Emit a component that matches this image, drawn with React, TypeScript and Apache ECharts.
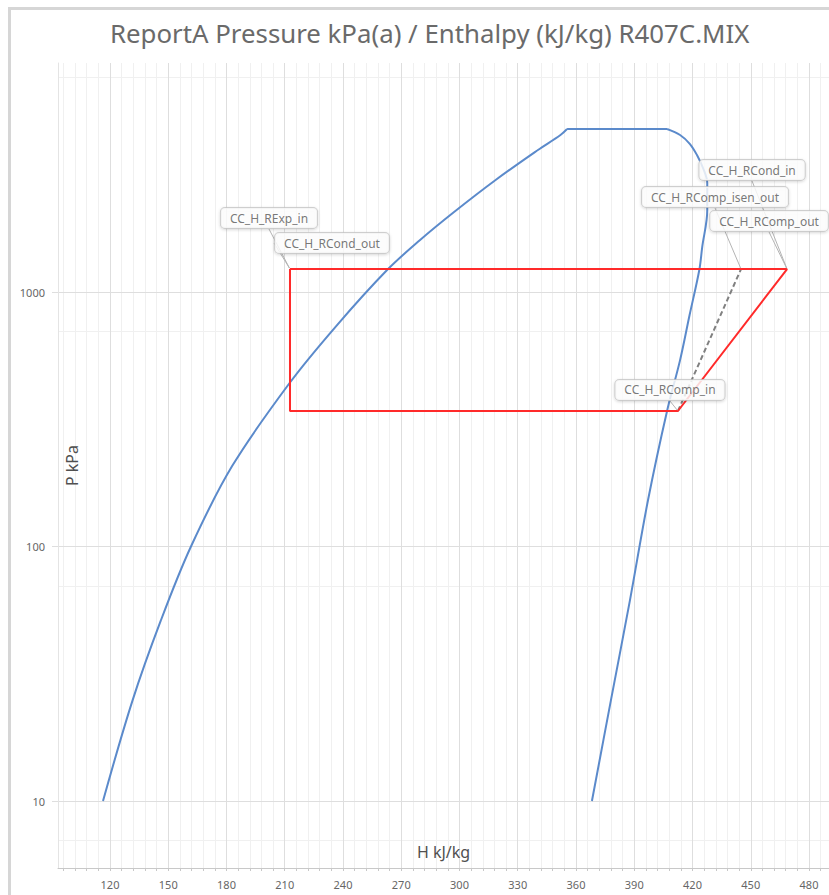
import React, { useEffect, useRef } from "react";
import * as echarts from "echarts";

// Saturation dome of R407C (enthalpy kJ/kg, pressure kPa)
const liquidH = [116.4, 131.5, 146.1, 161.7, 182.9, 212.5, 236.5, 262.7, 279.7, 297.2, 318.6, 340.4, 352.0, 355.4];
const liquidP = [10, 24.7, 51, 100, 207, 439, 735, 1220, 1601, 2062, 2755, 3614, 4140, 4371];
const vapourH = [406.9, 413.6, 418.7, 422.3, 425.4, 427.6, 427.6, 425.0, 423.5, 418.5, 413.6, 406.9, 397.1, 387.8, 378.0, 368.2];
const vapourP = [4371, 4140, 3815, 3454, 3071, 2681, 2100, 1502, 1220, 812, 540, 340.8, 152.3, 61.6, 24.9, 10];

// Refrigeration cycle
const cycleH = [212.7, 212.7, 412.5, 468.7, 212.7];
const cycleP = [1231, 340.8, 340.8, 1231, 1231];
const isenH = [412.5, 445.0];
const isenP = [340.8, 1231];

// State point callouts
const calloutNames = ["CC_H_RExp_in", "CC_H_RCond_out", "CC_H_RCond_in", "CC_H_RComp_isen_out", "CC_H_RComp_out", "CC_H_RComp_in"];
const calloutH = [212.7, 212.7, 468.7, 445.0, 468.7, 412.5];
const calloutP = [1231, 1231, 1231, 1231, 1231, 340.8];

// Axis ticks and grid
const hTicks = [120, 150, 180, 210, 240, 270, 300, 330, 360, 390, 420, 450, 480];
const hMinor = [96, 102, 108, 114, 126, 132, 138, 144, 156, 162, 168, 174, 186, 192, 198, 204, 216, 222, 228, 234, 246, 252, 258, 264, 276, 282, 288, 294, 306, 312, 318, 324, 336, 342, 348, 354, 366, 372, 378, 384, 396, 402, 408, 414, 426, 432, 438, 444, 456, 462, 468, 474, 486];
const pTicks = [10, 100, 1000];
const pMinor = [7, 70, 700, 7000];

const H_MIN = 93.22;
const H_MAX = 490.3;
const P_MIN = 5.455;
const P_MAX = 7941;

// label box offsets from their state point (px)
const calloutShift = [
  [-21, -51],
  [42, -26],
  [-35, -99],
  [-26, -72],
  [-18, -48],
  [-8, -21],
];

const FONT = "Noto Sans";

export default function App() {
  const ref = useRef<HTMLDivElement>(null);

  useEffect(() => {
    document.body.style.margin = "0";
    const chart = echarts.init(ref.current!, null, { renderer: "svg" });
    const zip = (a: number[], b: number[]) => a.map((v, i) => [v, b[i]]);

    const gridLines = [
      ...hMinor.map((v) => ({ xAxis: v, lineStyle: { color: "#f0f0f0", width: 1, type: "solid" } })),
      ...pMinor.map((v) => ({ yAxis: v, lineStyle: { color: "#f0f0f0", width: 1, type: "solid" } })),
      ...hTicks.map((v) => ({ xAxis: v, lineStyle: { color: "#dedede", width: 1, type: "solid" } })),
      ...pTicks.map((v) => ({ yAxis: v, lineStyle: { color: "#dedede", width: 1, type: "solid" } })),
    ];

    const curve = { color: "#5b8acb", width: 2 };

    chart.setOption({
      animation: false,
      backgroundColor: "#ffffff",
      textStyle: { fontFamily: FONT },
      title: {
        text: "ReportA Pressure kPa(a) / Enthalpy (kJ/kg) R407C.MIX",
        left: 105,
        top: 15,
        textStyle: { fontFamily: FONT, fontSize: 25.8, fontWeight: "normal", color: "#6a6a6a" },
      },
      graphic: [
        {
          type: "polyline",
          shape: { points: [[9.5, 895], [9.5, 8.5], [829, 8.5]] },
          style: { stroke: "#d6d6d6", lineWidth: 3, fill: "none" },
          silent: true,
        },
      ],
      grid: { left: 58, top: 63, right: 0, bottom: 27, containLabel: false, outerBoundsMode: "none" },
      xAxis: {
        type: "value",
        min: H_MIN,
        max: H_MAX,
        name: "H kJ/kg",
        nameLocation: "middle",
        nameGap: -24,
        nameMoveOverlap: false,
        nameTextStyle: { fontFamily: FONT, fontSize: 16, color: "#505050" },
        axisLine: { show: true, lineStyle: { color: "#c8c8c8", width: 1 } },
        axisTick: { show: true, customValues: [...hMinor, ...hTicks], length: 3, lineStyle: { color: "#c8c8c8" } },
        axisLabel: { customValues: hTicks, color: "#666", fontSize: 11, margin: 11, fontFamily: FONT },
        splitLine: { show: false },
      },
      yAxis: {
        type: "log",
        logBase: 10,
        min: P_MIN,
        max: P_MAX,
        name: "P kPa",
        nameLocation: "middle",
        nameGap: -14,
        nameRotate: 90,
        nameMoveOverlap: false,
        nameTextStyle: { fontFamily: FONT, fontSize: 16, color: "#505050", verticalAlign: "middle" },
        axisLine: { show: true, lineStyle: { color: "#e4e4e4", width: 1 } },
        axisTick: { show: true, customValues: pTicks, length: 6, lineStyle: { color: "#dedede" } },
        axisLabel: {
          customValues: pTicks,
          color: "#666",
          fontSize: 11,
          margin: 13,
          fontFamily: FONT,
          formatter: (v: number) => String(Math.round(v)),
        },
        splitLine: { show: false },
      },
      series: [
        {
          type: "line",
          name: "grid",
          data: [[hTicks[0], pTicks[0]]],
          symbol: "none",
          lineStyle: { opacity: 0 },
          silent: true,
          z: 0,
          markLine: { silent: true, symbol: "none", z: 0, label: { show: false }, data: gridLines, animation: false },
        },
        {
          type: "line",
          name: "liquid",
          data: zip(liquidH, liquidP),
          symbol: "none",
          smooth: 0.35,
          lineStyle: curve,
          z: 3,
        },
        {
          type: "line",
          name: "dome top",
          data: [[liquidH[liquidH.length - 1], liquidP[liquidP.length - 1]], [vapourH[0], vapourP[0]]],
          symbol: "none",
          lineStyle: curve,
          z: 3,
        },
        {
          type: "line",
          name: "vapour",
          data: zip(vapourH, vapourP),
          symbol: "none",
          smooth: 0.35,
          lineStyle: curve,
          z: 3,
        },
        {
          type: "line",
          name: "isentropic",
          data: zip(isenH, isenP),
          symbol: "none",
          lineStyle: { color: "#808080", width: 2, type: [5, 3] },
          z: 4,
        },
        {
          type: "line",
          name: "cycle",
          data: zip(cycleH, cycleP),
          symbol: "none",
          lineStyle: { color: "#ff2a2a", width: 2 },
          z: 5,
        },
        {
          type: "scatter",
          name: "callouts",
          data: calloutNames.map((n, i) => ({ name: n, value: [calloutH[i], calloutP[i]] })),
          symbol: "circle",
          symbolSize: 2,
          itemStyle: { color: "rgba(0,0,0,0)" },
          z: 10,
          label: {
            show: true,
            position: "inside",
            formatter: (p: any) => p.name,
            fontFamily: FONT,
            fontSize: 12,
            color: "#555",
            backgroundColor: "#ffffff",
            borderColor: "#c4c4c4",
            borderWidth: 1,
            borderRadius: 4,
            padding: [4, 9, 4, 9],
            shadowColor: "rgba(0,0,0,0.18)",
            shadowBlur: 3,
            shadowOffsetY: 1,
          },
          labelLine: { show: true, lineStyle: { color: "#b4b4b4", width: 1 } },
          labelLayout: (params: any) => {
            const s = calloutShift[params.dataIndex] || [0, 0];
            return { dx: s[0], dy: s[1] };
          },
        },
      ],
    });

    return () => chart.dispose();
  }, []);

  return <div ref={ref} style={{ position: "absolute", left: 0, top: 0, width: 829, height: 895 }} />;
}
